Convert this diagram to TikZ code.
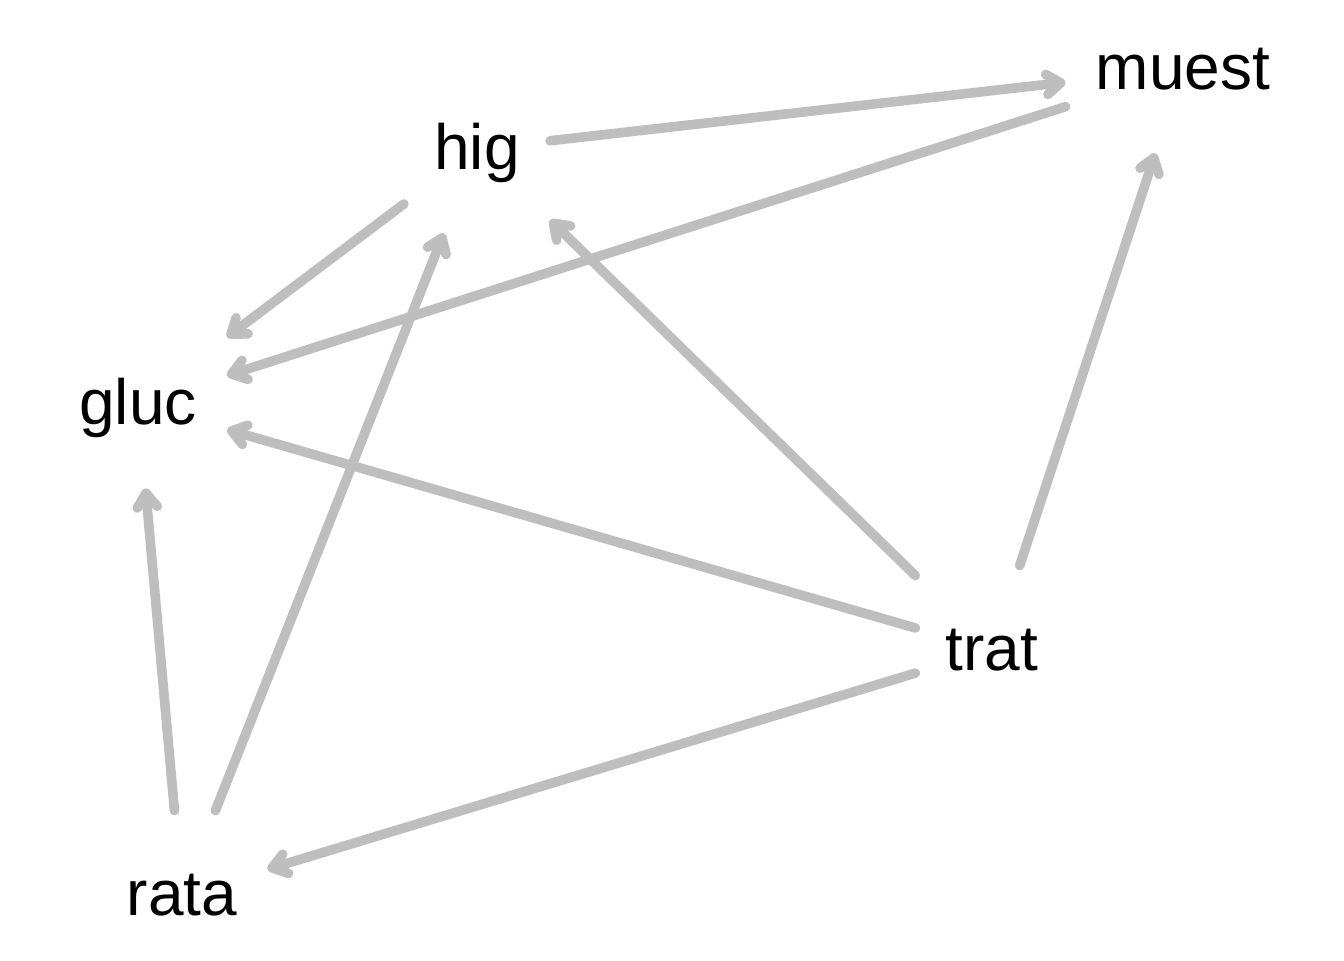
\documentclass[tikz,border=0pt]{standalone}
\usepackage{fontspec}
\setmainfont{Liberation Sans}
\usetikzlibrary{arrows.meta}
\definecolor{edgegray}{HTML}{BEBEBE}
\begin{document}
\begin{tikzpicture}[x=0.5pt,y=-0.5pt,
  var/.style={rectangle, inner xsep=15pt, inner ysep=0pt,
    text height=52pt, text depth=32pt,
    font=\fontsize{32}{38}\selectfont, text=black},
  edge/.style={draw=edgegray, line width=4.8pt, line cap=round,
    -{Straight Barb[round,length=7pt,width=10pt]}}]
\useasboundingbox[fill=white] (0,0) rectangle (1344,960);
\node[var] (muest) at (1183,69) {muest};
\node[var] (hig) at (477,149) {hig};
\node[var] (gluc) at (138,404) {gluc};
\node[var] (trat) at (992,650) {trat};
\node[var] (rata) at (182,895) {rata};
\draw[edge] (hig) -- (muest);
\draw[edge] (muest) -- (gluc);
\draw[edge] (hig) -- (gluc);
\draw[edge] (rata) -- (hig);
\draw[edge] (trat) -- (hig);
\draw[edge] (trat) -- (muest);
\draw[edge] (trat) -- (gluc);
\draw[edge] (trat) -- (rata);
\draw[edge] (rata) -- (gluc);
\end{tikzpicture}
\end{document}
